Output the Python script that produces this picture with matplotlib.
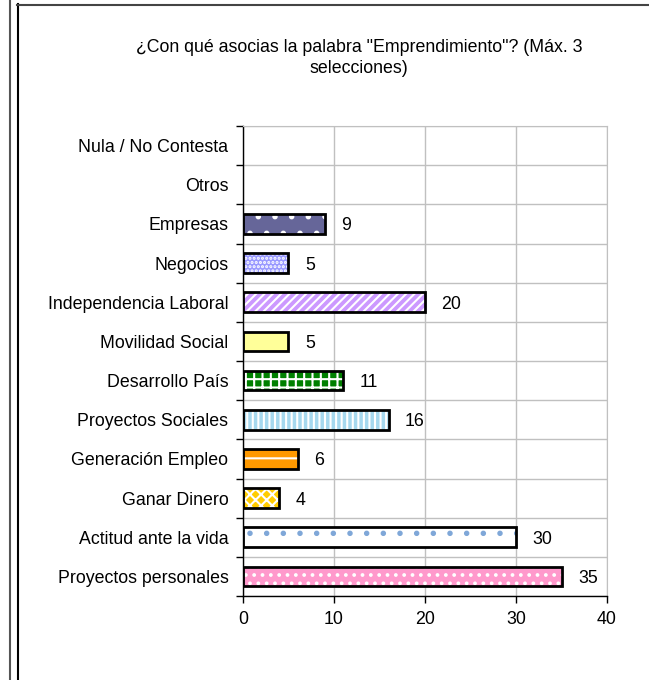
import numpy as np
import matplotlib
matplotlib.use("Agg")
import matplotlib.pyplot as plt
from matplotlib.lines import Line2D

plt.rcParams['font.family'] = ['Liberation Sans', 'DejaVu Sans']
plt.rcParams['hatch.linewidth'] = 1.5

# ======= Data (bottom to top) =======
categories = ['Proyectos personales', 'Actitud ante la vida', 'Ganar Dinero',
              'Generación Empleo', 'Proyectos Sociales', 'Desarrollo País',
              'Movilidad Social', 'Independencia Laboral', 'Negocios',
              'Empresas', 'Otros', 'Nula / No Contesta']
values = [35, 30, 4, 6, 16, 11, 5, 20, 5, 9, 0, 0]
x_ticks = [0, 10, 20, 30, 40]
title = '¿Con qué asocias la palabra "Emprendimiento"? (Máx. 3\nselecciones)'

# ======= Styles per bar =======
face_colors = ['#ff99cc', '#ffffff', '#ffcc00', '#ff9900', '#a6d8ee', '#008000',
               '#ffff99', '#cc99ff', '#9999ff', '#666699', '#ffffff', '#ffffff']
hatch_colors = ['white', '#7fa7d8', 'white', 'white', 'white', 'white',
                'white', 'white', 'white', 'white', 'white', 'white']
hatches = ['..', '.', 'xxx', '-', '|||', '++', '', '////', '....', '.', '', '']

FS = 12.8

fig = plt.figure(figsize=(6.49, 6.8), dpi=100)
ax = fig.add_axes([0.3744, 0.1235, 0.5609, 0.6912])

y = np.arange(len(categories))
for i, v in enumerate(values):
    if v == 0:
        continue
    # fill + coloured hatch first, then the black outline on top
    ax.barh(y[i], v, height=0.5, color=face_colors[i], hatch=hatches[i],
            edgecolor=hatch_colors[i], linewidth=0, zorder=2)
    ax.barh(y[i], v, height=0.5, fill=False, edgecolor='black',
            linewidth=2, zorder=3)
    ax.text(v + 1.8, y[i], str(v), va='center_baseline', ha='left', fontsize=FS)

ax.set_xlim(0, 40)
ax.set_ylim(-0.5, len(categories) - 0.5)
ax.set_xticks(x_ticks)
ax.set_xticklabels([str(t) for t in x_ticks], fontsize=FS)
ax.set_yticks(y)
ax.set_yticklabels(categories, fontsize=FS, va='center_baseline')
ax.set_yticks(np.arange(len(categories) + 1) - 0.5, minor=True)

ax.tick_params(axis='y', which='major', length=0, pad=10.5)
ax.tick_params(axis='y', which='minor', length=5, width=1, color='black')
ax.tick_params(axis='x', length=5, width=1, color='black', pad=6)

ax.grid(axis='x', color='#c0c0c0', linewidth=1, zorder=0)
ax.grid(axis='y', which='minor', color='#c0c0c0', linewidth=1, zorder=0)
ax.set_axisbelow(True)

for s in ['top', 'right']:
    ax.spines[s].set_color('#c0c0c0')
for s in ['left', 'bottom']:
    ax.spines[s].set_color('black')
    ax.spines[s].set_linewidth(1)

fig.text(359 / 649, 1 - 58 / 680, title, ha='center', va='center',
         fontsize=FS, linespacing=1.3)

# frame lines around the chart
W, H = 649, 680
fig.add_artist(Line2D([9.5 / W, 9.5 / W], [0, 1], color='#555555', linewidth=1.5))
fig.add_artist(Line2D([17.5 / W, 17.5 / W], [0, 1 - 4 / H], color='black', linewidth=1.5))
fig.add_artist(Line2D([17 / W, 1], [1 - 4.5 / H, 1 - 4.5 / H], color='#444444', linewidth=1.5))

fig.savefig('out.png', dpi=100)
